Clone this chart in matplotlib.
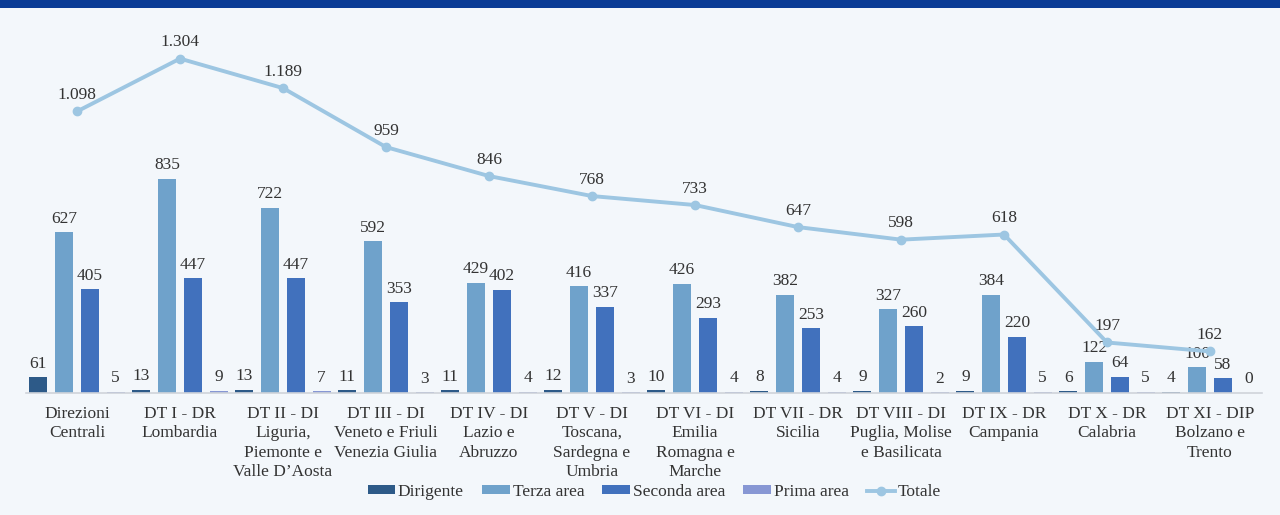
import matplotlib
matplotlib.use("Agg")
import matplotlib.pyplot as plt
from matplotlib.patches import Rectangle
import numpy as np

categories = [
    "Direzioni\nCentrali",
    "DT I - DR\nLombardia",
    "DT II - DI\nLiguria,\nPiemonte e\nValle D\u2019Aosta",
    "DT III - DI\nVeneto e Friuli\nVenezia Giulia",
    "DT IV - DI\nLazio e\nAbruzzo",
    "DT V - DI\nToscana,\nSardegna e\nUmbria",
    "DT VI - DI\nEmilia\nRomagna e\nMarche",
    "DT VII - DR\nSicilia",
    "DT VIII - DI\nPuglia, Molise\ne Basilicata",
    "DT IX - DR\nCampania",
    "DT X - DR\nCalabria",
    "DT XI - DIP\nBolzano e\nTrento",
]
dirigente = [61, 13, 13, 11, 11, 12, 10, 8, 9, 9, 6, 4]
terza_area = [627, 835, 722, 592, 429, 416, 426, 382, 327, 384, 122, 100]
seconda_area = [405, 447, 447, 353, 402, 337, 293, 253, 260, 220, 64, 58]
prima_area = [5, 9, 7, 3, 4, 3, 4, 4, 2, 5, 5, 0]
totale = [1098, 1304, 1189, 959, 846, 768, 733, 647, 598, 618, 197, 162]

series_names = ["Dirigente", "Terza area", "Seconda area", "Prima area"]
series_vals = [dirigente, terza_area, seconda_area, prima_area]
colors = ["#2D5A88", "#6FA2CB", "#4171BD", "#8797D4"]
line_color = "#9DC6E2"
bg = "#F3F7FB"
text_color = "#333333"

plt.rcParams["font.family"] = ["Liberation Serif", "DejaVu Serif"]
fs = 12.5

fig = plt.figure(figsize=(12.8, 5.15), dpi=100, facecolor=bg)
fig.patches.append(Rectangle((0, 1 - 8 / 515), 1, 8 / 515, transform=fig.transFigure,
                             facecolor="#0A3C96", edgecolor="none", zorder=0))

ax = fig.add_axes([25.5 / 1280, 122 / 515, 1236 / 1280, 359 / 515])
ax.set_facecolor(bg)

x = np.arange(len(categories))
offsets = [-0.375, -0.125, 0.125, 0.375]
width = 0.175
handles = []
for name, vals, off, c in zip(series_names, series_vals, offsets, colors):
    bars = ax.bar(x + off, vals, width, color=c, label=name, zorder=2)
    ax.bar_label(bars, labels=[str(v) for v in vals], padding=4, fontsize=fs,
                 color=text_color)
    handles.append(bars)

ln, = ax.plot(x, totale, color=line_color, lw=2.8, marker="o", markersize=6,
              label="Totale", zorder=3)
handles.append(ln)
for xi, v in zip(x, totale):
    lab = f"{v:,}".replace(",", ".")
    ax.annotate(lab, (xi, v), xytext=(0, 6), textcoords="offset points",
                ha="center", va="bottom", fontsize=fs, color=text_color)

ax.set_xlim(-0.5, len(categories) - 0.5)
ax.set_ylim(0, 1400)
ax.set_yticks([])
ax.set_xticks(x)
ax.set_xticklabels(categories, fontsize=fs, color=text_color, linespacing=1.3)
ax.tick_params(axis="x", length=0, pad=9)
for s in ["top", "right", "left"]:
    ax.spines[s].set_visible(False)
ax.spines["bottom"].set_color("#D0D4DA")
ax.spines["bottom"].set_linewidth(1.2)

leg = fig.legend(handles=handles, labels=series_names + ["Totale"], loc="center",
                 bbox_to_anchor=(0.511, 1 - 492 / 515), ncol=5, frameon=False,
                 fontsize=fs, handlelength=1.6, handleheight=0.4,
                 handletextpad=0.15, columnspacing=1.05)
for t in leg.get_texts():
    t.set_color(text_color)

fig.savefig("out.png", dpi=100, facecolor=bg)
